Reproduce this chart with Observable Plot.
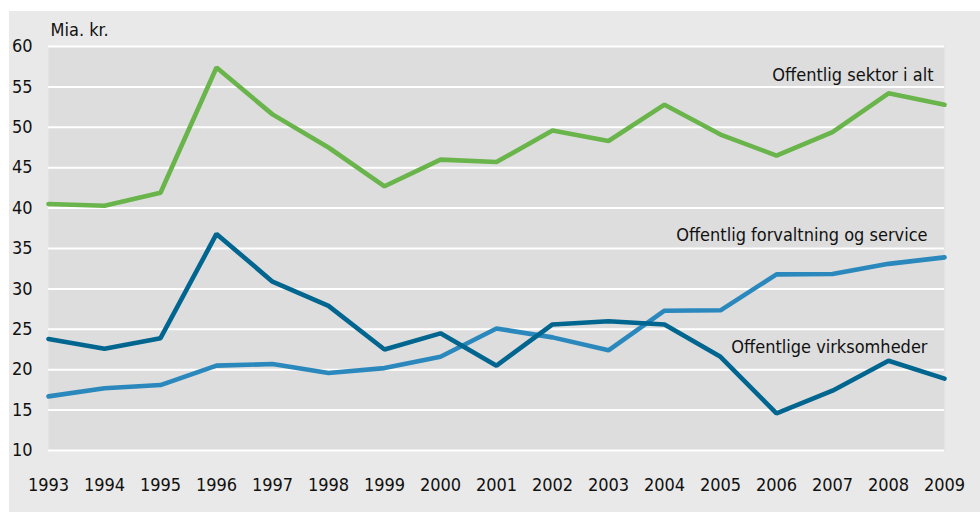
<!DOCTYPE html>
<html><head><meta charset="utf-8">
<script src="https://cdn.jsdelivr.net/npm/d3@7"></script>
<script src="https://cdn.jsdelivr.net/npm/@observablehq/plot@0.6"></script>
<style>
body{margin:0;background:#fff;}
#panel{position:absolute;left:9px;top:11px;width:971px;height:501px;background:#e9e9e9;}
</style></head><body><div id="panel"></div>
<script>
const years = [1993,1994,1995,1996,1997,1998,1999,2000,2001,2002,2003,2004,2005,2006,2007,2008,2009];
const sektorIAlt   = [40.5,40.3,41.9,57.4,51.6,47.5,42.7,46.0,45.7,49.6,48.3,52.8,49.1,46.5,49.4,54.2,52.8];
const forvaltning  = [16.7,17.7,18.1,20.5,20.7,19.6,20.2,21.6,25.1,24.0,22.4,27.3,27.35,31.8,31.85,33.1,33.9];
const virksomheder = [23.8,22.6,23.9,36.8,30.9,27.9,22.5,24.5,20.5,25.6,26.0,25.6,21.6,14.6,17.4,21.1,18.9];
const seriesNames  = ["Offentlig sektor i alt","Offentlig forvaltning og service","Offentlige virksomheder"];
const seriesColors = ["#6ab54b","#2a88bd","#00658f"];
const yTicks = [10,15,20,25,30,35,40,45,50,55,60];
const unitLabel = "Mia. kr.";

const seriesValues = [sektorIAlt, forvaltning, virksomheder];
const data = [];
seriesNames.forEach((name, i) => years.forEach((yr, j) => data.push({series: name, year: yr, value: seriesValues[i][j]})));

const FONT = "'DejaVu Sans Condensed','Liberation Sans Narrow',sans-serif";

function labelMark(name, dx, dy) {
  return Plot.text(data.filter(d => d.series === name), Plot.selectLast({
    x: "year", y: "value", text: "series", textAnchor: "end", lineAnchor: "middle", dx, dy,
    fontSize: 18, fill: "#111"
  }));
}

const chart = Plot.plot({
  width: 971, height: 501,
  marginLeft: 39, marginRight: 36, marginTop: 35, marginBottom: 62,
  style: {fontFamily: FONT, fontSize: "18px", background: "transparent", color: "#111"},
  x: {domain: [1993, 2009]},
  y: {domain: [10, 60]},
  color: {domain: seriesNames, range: seriesColors},
  marks: [
    Plot.frame({fill: "#dddddd", stroke: "none"}),
    Plot.ruleY(yTicks, {stroke: "#ffffff", strokeWidth: 2}),
    Plot.axisY({ticks: yTicks, tickSize: 0, tickPadding: 16, label: null, fontSize: 18}),
    Plot.axisX({ticks: years, tickSize: 0, tickPadding: 28, tickFormat: d => String(d), label: null, fontSize: 18}),
    Plot.lineY(data, {x: "year", y: "value", z: "series", stroke: "series", strokeWidth: 4.6, strokeLinejoin: "miter"}),
    labelMark(seriesNames[0], -11, -29),
    labelMark(seriesNames[1], -17, -22),
    labelMark(seriesNames[2], -17, -31),
    Plot.text([unitLabel], {frameAnchor: "top-left", text: d => d, textAnchor: "start", lineAnchor: "middle", dx: 2, dy: -16, fontSize: 18, fill: "#111"})
  ]
});
document.getElementById("panel").appendChild(chart);
</script>
</body></html>
